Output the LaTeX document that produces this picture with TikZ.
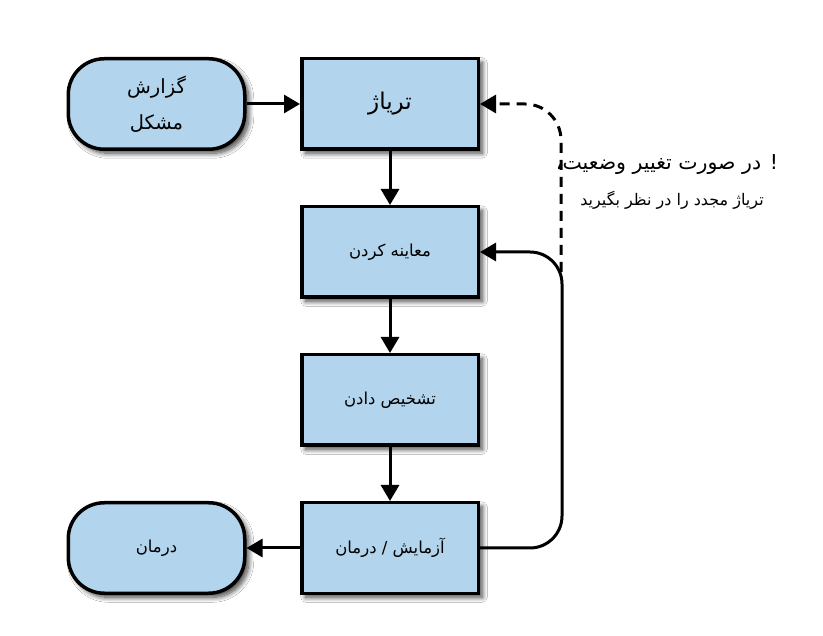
\documentclass[tikz,border=0pt]{standalone}
\usepackage{fontspec}
\newfontfamily\pf[Script=Arabic]{DejaVu Sans}
\TeXXeTstate=1
\usetikzlibrary{arrows.meta,shadows.blur}
\definecolor{boxblue}{RGB}{178,212,236}
\begin{document}
\begin{tikzpicture}[x=1pt,y=-1pt]
\useasboundingbox[fill=white] (0,0) rectangle (823,636);
\tikzset{
 box/.style={draw=black, line width=3.5pt, fill=boxblue, minimum width=176.5pt, minimum height=90.5pt, inner sep=0pt,
   blur shadow={shadow xshift=4pt, shadow yshift=-4pt, shadow blur steps=10, shadow blur radius=5pt, shadow opacity=75}},
 term/.style={box, rounded corners=36pt},
 conn/.style={line width=3pt, -{Triangle[length=16pt,width=18pt]}},
 lbl/.style={font=\pf\fontsize{16.5}{20}\selectfont, text=black},
 big/.style={font=\pf\fontsize{19.5}{36}\selectfont, text=black},
 huge/.style={font=\pf\fontsize{23}{28}\selectfont, text=black},
}
\node[term, big, align=center] (gz) at (156.5,104) {\beginR گزارش\endR\\\beginR مشکل\endR};
\node[box, huge] (tr) at (390,104) {\beginR تریاژ\endR};
\node[box, lbl] (mo) at (390,252) {\beginR معاینه کردن\endR};
\node[box, lbl] (ta) at (390,400) {\beginR تشخیص دادن\endR};
\node[box, lbl] (az) at (390,548) {\beginR آزمایش / درمان\endR};
\node[term, lbl] (dr) at (156.5,548) {\beginR درمان\endR};

\coordinate (c1) at (562,548);
\coordinate (c2) at (562,252);
\coordinate (d1) at (561,272);
\coordinate (d2) at (561,104);

\draw[conn] (gz) -- (tr);
\draw[conn] (tr) -- (mo);
\draw[conn] (mo) -- (ta);
\draw[conn] (ta) -- (az);
\draw[conn] (az) -- (dr);
\draw[conn, rounded corners=32pt] (az.east) -- (c1) -- (c2) -- (mo.east);
\draw[conn, dashed, dash pattern=on 10pt off 7pt, rounded corners=36pt] (d1) -- (d2) -- (tr.east);

\node[font=\pf\fontsize{20.5}{24}\selectfont, inner sep=1pt] (n1) at (667,165) {\beginR ! در صورت تغییر وضعیت،\endR};
\node[font=\pf\fontsize{16}{19}\selectfont, inner sep=1pt] (n2) at (672,200) {\beginR تریاژ مجدد را در نظر بگیرید\endR};
\end{tikzpicture}
\end{document}
